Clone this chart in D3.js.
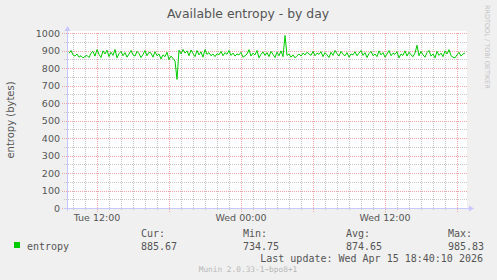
<!DOCTYPE html>
<html>
<head>
<meta charset="utf-8">
<script src="https://cdn.jsdelivr.net/npm/d3@7"></script>
<style>
  body { margin: 0; background: #f0f0f0; }
  svg { display: block; }
</style>
</head>
<body>
<svg></svg>
<script>
var width = 497;
var height = 280;

// samples every 10 minutes, first one Tue Apr 14 09:40
var startTime = new Date(2026, 3, 14, 9, 40);
var stepMinutes = 10;
var entropy = [
  885, 900, 875, 868, 880, 862, 870, 858, 866, 872,
  860, 885, 895, 868, 905, 878, 860, 898, 880, 902,
  865, 890, 872, 906, 858, 882, 895, 870, 888, 862,
  880, 900, 875, 868, 895, 882, 860, 877, 900, 870,
  890, 885, 862, 893, 870, 880, 852, 875, 865, 890,
  848, 868, 855, 840,
  734.75,
  902, 880, 906, 885, 898, 870, 903, 882, 865, 900,
  875, 892, 862, 905, 878, 888, 870, 880, 865, 882,
  875, 895, 870, 888, 878, 900, 872, 885, 868, 880,
  875, 890, 862, 870, 880, 905, 868, 885, 875, 900,
  858, 878, 892, 872, 888, 865, 895, 878, 860, 890,
  870, 898, 865,
  985.83,
  872, 880, 862, 875, 858, 870, 880, 868, 885, 875,
  890, 880, 872, 895, 870, 885, 878, 893, 865, 888,
  875, 860, 890, 872, 900, 882, 868, 895, 878, 870,
  888, 862, 880, 875, 893, 870, 885, 900, 872, 888,
  860, 882, 895, 870, 880, 865, 898, 875, 888, 862,
  880, 900, 870, 885, 878, 893, 858, 880, 872, 898,
  868, 890, 875, 865, 885,
  930,
  870, 895, 875, 862, 888, 900, 868, 880, 858, 895,
  872, 885, 865, 898, 880, 905, 870, 862, 858, 875,
  890, 868, 880, 885.67
];

var yTicks = [0, 100, 200, 300, 400, 500, 600, 700, 800, 900, 1000];
var xLabels = ["Tue 12:00", "Wed 00:00", "Wed 12:00"];
var xLabelTimes = [new Date(2026, 3, 14, 12), new Date(2026, 3, 15, 0), new Date(2026, 3, 15, 12)];

var statNames = ["Cur:", "Min:", "Avg:", "Max:"];
var statValues = ["885.67", "734.75", "874.65", "985.83"];
var seriesName = "entropy";
var lastUpdate = "Last update: Wed Apr 15 18:40:10 2026";

var svg = d3.select('svg')
    .attr("width", width)
    .attr("height", height);

svg.append('rect')
    .attr("width", width).attr("height", height)
    .attr("fill", '#f0f0f0');

var x = d3.scaleTime()
    .domain([new Date(2026, 3, 14, 9, 30), new Date(2026, 3, 15, 18, 50)])
    .range([67, 467]);
var y = d3.scaleLinear()
    .domain([0, 1000])
    .range([208, 33]);

// plot canvas
svg.append('rect')
    .attr("x", 67).attr("y", 31)
    .attr("width", 400).attr("height", 178)
    .attr("fill", '#ffffff');

var grid = svg.append('g');
var hours = d3.timeHour.every(1).range(x.domain()[0], x.domain()[1]);

function px(v) { return Math.round(v) + 0.5; }

// minor grid
grid.selectAll('.vminor')
    .data(hours.filter(function(d) { return d.getHours() % 6 != 0; }))
    .enter().append('line')
    .attr("x1", function(d) { return px(x(d)); })
    .attr("x2", function(d) { return px(x(d)); })
    .attr("y1", 33).attr("y2", 211)
    .attr("stroke", '#c6c6c6')
    .attr("stroke-dasharray", '1,1');

grid.selectAll('.hminor')
    .data(d3.range(50, 1000, 100))
    .enter().append('line')
    .attr("x1", 64).attr("x2", 467)
    .attr("y1", function(d) { return px(y(d)); })
    .attr("y2", function(d) { return px(y(d)); })
    .attr("stroke", '#c6c6c6')
    .attr("stroke-dasharray", '1,1');

// major grid
grid.selectAll('.vmajor')
    .data(hours.filter(function(d) { return d.getHours() % 6 == 0; }))
    .enter().append('line')
    .attr("x1", function(d) { return px(x(d)); })
    .attr("x2", function(d) { return px(x(d)); })
    .attr("y1", 33).attr("y2", 212)
    .attr("stroke", '#eca4a4')
    .attr("stroke-dasharray", '1,1');

grid.selectAll('.hmajor')
    .data(yTicks)
    .enter().append('line')
    .attr("x1", 62).attr("x2", 467)
    .attr("y1", function(d) { return px(y(d)); })
    .attr("y2", function(d) { return px(y(d)); })
    .attr("stroke", '#eca4a4')
    .attr("stroke-dasharray", '1,1');

// axes
var axisColor = '#c8c8ff';
svg.append('line')
    .attr("x1", 67.5).attr("x2", 67.5)
    .attr("y1", 211).attr("y2", 30)
    .attr("stroke", axisColor);
svg.append('path')
    .attr("d", "M64.5,31 L70.5,31 L67.5,26 Z")
    .attr("fill", axisColor);
svg.append('line')
    .attr("x1", 64).attr("x2", 470)
    .attr("y1", 208.5).attr("y2", 208.5)
    .attr("stroke", axisColor);
svg.append('path')
    .attr("d", "M469,205.5 L469,211.5 L474,208.5 Z")
    .attr("fill", axisColor);

// data line
var line = d3.line()
    .x(function(d, i) { return x(d3.timeMinute.offset(startTime, i * stepMinutes)); })
    .y(function(d) { return y(d); });

svg.append('path')
    .datum(entropy)
    .attr("d", line)
    .attr("fill", 'none')
    .attr("stroke", '#00cc00')
    .attr("stroke-width", 1);

// tick labels
svg.append('g')
    .selectAll('text')
    .data(yTicks)
    .enter().append('text')
    .attr("x", 60)
    .attr("y", function(d) { return y(d) + 3.5; })
    .attr("text-anchor", 'end')
    .attr("font-family", 'DejaVu Sans')
    .attr("font-size", 9.5)
    .attr("fill", '#555')
    .text(function(d) { return d; });

svg.append('g')
    .selectAll('text')
    .data(xLabels)
    .enter().append('text')
    .attr("x", function(d, i) { return x(xLabelTimes[i]); })
    .attr("y", 221)
    .attr("text-anchor", 'middle')
    .attr("font-family", 'DejaVu Sans')
    .attr("font-size", 9.5)
    .attr("fill", '#555')
    .text(function(d) { return d; });

// title and labels
svg.append('text')
    .attr("x", 248).attr("y", 18)
    .attr("text-anchor", 'middle')
    .attr("font-family", 'DejaVu Sans')
    .attr("font-size", 12.4)
    .attr("fill", '#555')
    .text("Available entropy - by day");

svg.append('text')
    .attr("transform", "translate(14,120) rotate(-90)")
    .attr("text-anchor", 'middle')
    .attr("font-family", 'DejaVu Sans')
    .attr("font-size", 10)
    .attr("fill", '#555')
    .text("entropy (bytes)");

svg.append('text')
    .attr("transform", "translate(485,5) rotate(90)")
    .attr("font-family", 'DejaVu Sans')
    .attr("font-size", 6.5)
    .attr("fill", '#c4c4c4')
    .text("RRDTOOL / TOBI OETIKER");

// legend
var mono = 'DejaVu Sans Mono';
svg.append('rect')
    .attr("x", 14).attr("y", 242)
    .attr("width", 6).attr("height", 6)
    .attr("fill", '#00cc00');
svg.append('text')
    .attr("x", 27).attr("y", 249.5)
    .attr("font-family", mono).attr("font-size", 10)
    .attr("fill", '#555')
    .text(seriesName);

var statX = [141, 243, 346, 448];
var stats = svg.append('g');
stats.selectAll('.sname')
    .data(statNames)
    .enter().append('text')
    .attr("x", function(d, i) { return statX[i]; })
    .attr("y", 237)
    .attr("font-family", mono).attr("font-size", 10)
    .attr("fill", '#555')
    .text(function(d) { return d; });
stats.selectAll('.svalue')
    .data(statValues)
    .enter().append('text')
    .attr("x", function(d, i) { return statX[i]; })
    .attr("y", 249.5)
    .attr("font-family", mono).attr("font-size", 10)
    .attr("fill", '#555')
    .text(function(d) { return d; });

svg.append('text')
    .attr("x", 483).attr("y", 261.5)
    .attr("text-anchor", 'end')
    .attr("font-family", mono).attr("font-size", 10)
    .attr("fill", '#555')
    .text(lastUpdate);

svg.append('text')
    .attr("x", 248).attr("y", 272)
    .attr("text-anchor", 'middle')
    .attr("font-family", mono).attr("font-size", 7.8)
    .attr("fill", '#b8b8b8')
    .text("Munin 2.0.33-1~bpo8+1");
</script>
</body>
</html>
